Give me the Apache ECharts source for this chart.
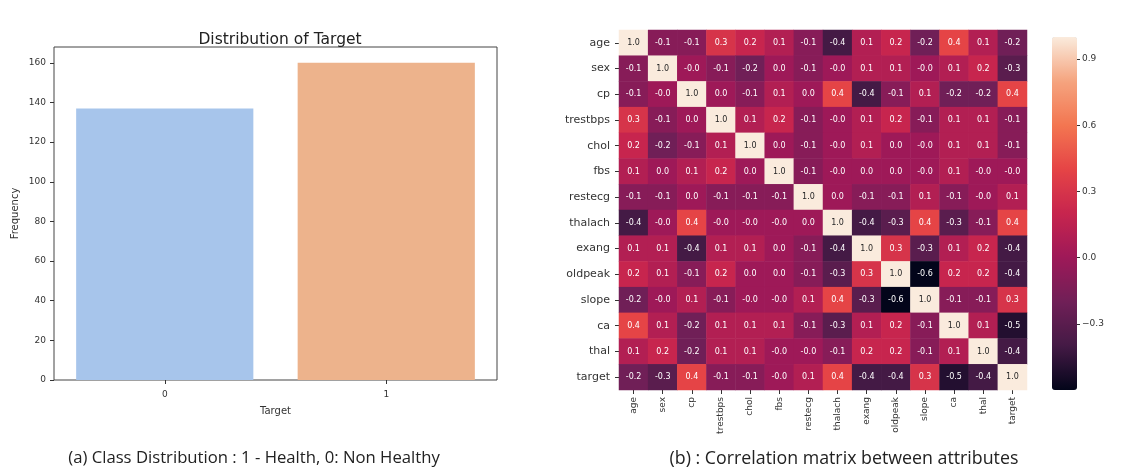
<!DOCTYPE html>
<html><head><meta charset="utf-8">
<script src="https://cdn.jsdelivr.net/npm/echarts@6/dist/echarts.min.js"></script>
<style>html,body{margin:0;padding:0;background:#fff}#c{width:1123px;height:468px}</style>
</head><body><div id="c"></div>
<script>
// ---- data ----
const barCategories = ['0', '1'];
const barValues = [137, 160];
const barColors = ['#A7C5EB', '#EDB38C'];
const barYTicks = [0, 20, 40, 60, 80, 100, 120, 140, 160];

const attributes = ['age','sex','cp','trestbps','chol','fbs','restecg','thalach','exang','oldpeak','slope','ca','thal','target'];
const corrAge      = [ 1.0, -0.1, -0.1,  0.3,  0.2,  0.1, -0.1, -0.4,  0.1,  0.2, -0.2,  0.4,  0.1, -0.2];
const corrSex      = [-0.1,  1.0, -0.0, -0.1, -0.2,  0.0, -0.1, -0.0,  0.1,  0.1, -0.0,  0.1,  0.2, -0.3];
const corrCp       = [-0.1, -0.0,  1.0,  0.0, -0.1,  0.1,  0.0,  0.4, -0.4, -0.1,  0.1, -0.2, -0.2,  0.4];
const corrTrestbps = [ 0.3, -0.1,  0.0,  1.0,  0.1,  0.2, -0.1, -0.0,  0.1,  0.2, -0.1,  0.1,  0.1, -0.1];
const corrChol     = [ 0.2, -0.2, -0.1,  0.1,  1.0,  0.0, -0.1, -0.0,  0.1,  0.0, -0.0,  0.1,  0.1, -0.1];
const corrFbs      = [ 0.1,  0.0,  0.1,  0.2,  0.0,  1.0, -0.1, -0.0,  0.0,  0.0, -0.0,  0.1, -0.0, -0.0];
const corrRestecg  = [-0.1, -0.1,  0.0, -0.1, -0.1, -0.1,  1.0,  0.0, -0.1, -0.1,  0.1, -0.1, -0.0,  0.1];
const corrThalach  = [-0.4, -0.0,  0.4, -0.0, -0.0, -0.0,  0.0,  1.0, -0.4, -0.3,  0.4, -0.3, -0.1,  0.4];
const corrExang    = [ 0.1,  0.1, -0.4,  0.1,  0.1,  0.0, -0.1, -0.4,  1.0,  0.3, -0.3,  0.1,  0.2, -0.4];
const corrOldpeak  = [ 0.2,  0.1, -0.1,  0.2,  0.0,  0.0, -0.1, -0.3,  0.3,  1.0, -0.6,  0.2,  0.2, -0.4];
const corrSlope    = [-0.2, -0.0,  0.1, -0.1, -0.0, -0.0,  0.1,  0.4, -0.3, -0.6,  1.0, -0.1, -0.1,  0.3];
const corrCa       = [ 0.4,  0.1, -0.2,  0.1,  0.1,  0.1, -0.1, -0.3,  0.1,  0.2, -0.1,  1.0,  0.1, -0.5];
const corrThal     = [ 0.1,  0.2, -0.2,  0.1,  0.1, -0.0, -0.0, -0.1,  0.2,  0.2, -0.1,  0.1,  1.0, -0.4];
const corrTarget   = [-0.2, -0.3,  0.4, -0.1, -0.1, -0.0,  0.1,  0.4, -0.4, -0.4,  0.3, -0.5, -0.4,  1.0];
const corrRows = [corrAge, corrSex, corrCp, corrTrestbps, corrChol, corrFbs, corrRestecg,
                  corrThalach, corrExang, corrOldpeak, corrSlope, corrCa, corrThal, corrTarget];
const colorbarTicks = [-0.3, 0.0, 0.3, 0.6, 0.9];
const colorMin = -0.6, colorMax = 1.0;
const rocket = ['#03051A','#441A45','#701F57','#9E1958','#C7254E','#E54446','#F37651','#F5A47F','#FAEBDD'];

// ---- build ----
const fmt = v => Object.is(v, -0) ? '-0.0' : v.toFixed(1);
const heatData = [];
corrRows.forEach((row, yi) => row.forEach((v, xi) => {
  heatData.push({ value: [xi, yi, v], label: { formatter: fmt(v), color: v > 0.8 ? '#262626' : '#ffffff' } });
}));
const FONT = 'DejaVu Sans';
const txt = '#333';

const chart = echarts.init(document.getElementById('c'), null, { renderer: 'canvas' });
chart.setOption({
  animation: false,
  backgroundColor: '#ffffff',
  textStyle: { fontFamily: FONT },
  title: [
    { text: 'Distribution of Target', left: 275, top: 27, textAlign: 'center',
      textStyle: { fontFamily: FONT, fontSize: 15.5, fontWeight: 'normal', color: '#222' } },
    { text: '(a) Class Distribution : 1 - Health, 0: Non Healthy', left: 249, top: 445, textAlign: 'center',
      textStyle: { fontFamily: 'Open Sans', fontSize: 16.7, fontWeight: 'normal', color: '#222' } },
    { text: '(b) : Correlation matrix between attributes', left: 839, top: 445, textAlign: 'center',
      textStyle: { fontFamily: 'Open Sans', fontSize: 17.8, fontWeight: 'normal', color: '#222' } }
  ],
  grid: [
    { left: 54, top: 47, width: 443, height: 333, show: true, borderColor: '#444', borderWidth: 1, backgroundColor: 'transparent' },
    { left: 619, top: 30, width: 408, height: 360 },
    { left: 1052, top: 37, width: 25, height: 353 }
  ],
  xAxis: [
    { gridIndex: 0, type: 'category', data: barCategories,
      axisLine: { show: false }, axisTick: { show: true, alignWithLabel: true, length: 4, lineStyle: { color: txt } },
      axisLabel: { fontSize: 9, color: txt, margin: 10 },
      name: 'Target', nameLocation: 'middle', nameGap: 26, nameTextStyle: { fontSize: 10, color: txt } },
    { gridIndex: 1, type: 'category', data: attributes, position: 'bottom',
      axisLine: { show: false }, axisTick: { show: true, alignWithLabel: true, length: 4, lineStyle: { color: txt } },
      axisLabel: { rotate: 90, fontSize: 9, color: txt, margin: 7, interval: 0 } },
    { gridIndex: 2, type: 'category', data: [''], show: false }
  ],
  yAxis: [
    { gridIndex: 0, type: 'value', min: 0, max: 168,
      axisLine: { show: false }, splitLine: { show: false },
      axisTick: { show: true, length: 4, lineStyle: { color: txt }, customValues: barYTicks },
      axisLabel: { fontSize: 9, color: txt, margin: 8, customValues: barYTicks },
      name: 'Frequency', nameLocation: 'middle', nameGap: 34, nameTextStyle: { fontSize: 10, color: txt } },
    { gridIndex: 1, type: 'category', data: attributes, inverse: true,
      axisLine: { show: false }, axisTick: { show: true, alignWithLabel: true, length: 4, lineStyle: { color: txt } },
      axisLabel: { fontSize: 11, color: txt, margin: 9, interval: 0 } },
    { gridIndex: 2, type: 'value', min: colorMin, max: colorMax, position: 'right',
      axisLine: { show: false }, splitLine: { show: false },
      axisTick: { show: true, length: 3, lineStyle: { color: txt }, customValues: colorbarTicks },
      axisLabel: { fontSize: 9, color: txt, margin: 5, customValues: colorbarTicks,
        formatter: v => (v < 0 ? '\u2212' + Math.abs(v).toFixed(1) : v.toFixed(1)) } }
  ],
  visualMap: {
    type: 'continuous', seriesIndex: 1, dimension: 2, min: colorMin, max: colorMax,
    calculable: false, orient: 'vertical', left: 1052, top: 37, itemWidth: 25, itemHeight: 353,
    padding: 0, text: null, showLabel: false, hoverLink: false,
    inRange: { color: rocket }
  },
  series: [
    { type: 'bar', xAxisIndex: 0, yAxisIndex: 0, barWidth: '80%',
      data: barValues.map((v, i) => ({ value: v, itemStyle: { color: barColors[i] } })) },
    { type: 'heatmap', xAxisIndex: 1, yAxisIndex: 1, data: heatData,
      label: { show: true, fontSize: 8, fontFamily: FONT },
      emphasis: { disabled: true } },
    { type: 'line', xAxisIndex: 2, yAxisIndex: 2, data: [], silent: true }
  ]
});
</script></body></html>
